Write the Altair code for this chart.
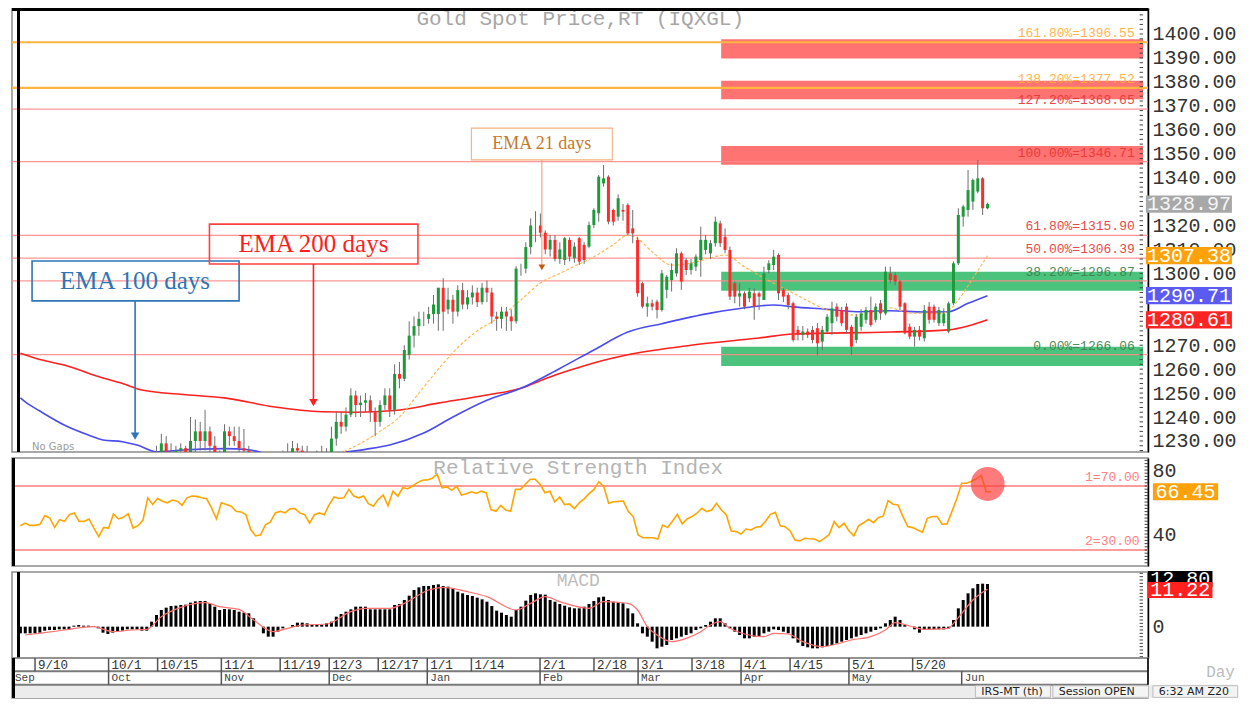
import altair as alt
import pandas as pd

# ---------------- data ----------------
bar_index = list(range(-4, 196))
opens = [1200,1193,1197,1200,1197,1195,1195,1205,1201,1194,
         1200,1198,1203,1207,1199,1200,1200,1194,1182,1192,
         1189,1204,1202,1199,1203,1188,1190,1194,1222,1221,
         1229,1225,1224,1226,1227,1222,1230,1234,1230,1234,
         1228,1225,1214,1234,1232,1230,1227,1226,1224,1209,
         1201,1201,1211,1214,1222,1223,1222,1227,1226,1224,
         1222,1214,1222,1224,1222,1231,1238,1236,1241,1249,
         1245,1246,1247,1242,1238,1245,1249,1243,1258,1256,
         1266,1274,1278,1281,1281,1283,1283,1294,1285,1289,
         1284,1293,1287,1290,1292,1288,1294,1292,1282,1281,
         1284,1282,1280,1302,1302,1311,1320,1320,1317,1310,
         1314,1306,1305.6,1314,1306.3,1314.7,1311.9,1311.2,1320.2,1325.1,
         1337.6,1340.4,1326.5,1323.7,1326.5,1328.6,1318.8,1314,1295.9,1286.1,
         1287.5,1288.2,1284.7,1293.1,1297.2,1300,1308.4,1305.6,1301.4,1302.8,
         1305.6,1309.8,1308.4,1312.6,1320.9,1315.3,1309.8,1295.9,1290.3,1291.7,
         1289.6,1291.7,1291.7,1288.9,1301.4,1303.5,1307.7,1293.1,1291,1287.5,
         1276.4,1274.3,1275.7,1276.4,1277.1,1271.5,1275.7,1279.2,1286.1,1284.7,
         1286.1,1277.7,1272.2,1277.7,1280.6,1284.7,1280.6,1287.5,1283.3,1300,
         1299.3,1296.6,1287.5,1277.7,1273.6,1276.4,1272.9,1286.1,1286.1,1279.2,
         1279.2,1275.7,1287.5,1304.2,1323.7,1326.5,1330,1334.2,1339.7,1327.2]
highs = [1201,1201,1203,1207,1201,1200,1210,1209,1205,1203,
         1205,1206,1211,1212,1205,1204,1204,1195,1196,1194,
         1208,1207,1206,1207,1204,1192,1196,1225,1228,1233,
         1232,1229,1228,1229,1228,1240,1239,1238,1243,1236,
         1232,1226,1237,1236,1236,1236,1235,1228,1225,1212,
         1206,1214,1217,1225,1226,1229,1230,1229,1228,1228,
         1224,1226,1228,1227,1236,1242,1242,1244,1252,1251,
         1249,1250,1249,1244,1247,1252,1252,1262,1263,1270,
         1280,1282,1284,1284,1286,1291,1294,1298,1294,1291,
         1295,1296,1293,1295,1294,1296,1297,1294,1284,1286,
         1286,1285,1303,1304,1313,1323,1326,1325,1318,1316,
         1316,1313,1315.3,1315,1313,1315.3,1313,1321.6,1327.2,1341.1,
         1345.3,1341,1327,1333,1329,1329.3,1326.5,1315.3,1296.6,1290.3,
         1289,1289,1301.4,1299.3,1304.2,1310.5,1309.1,1306.3,1306,1308,
         1319.5,1316,1314,1323.7,1322,1318.8,1311.2,1296.6,1295.9,1292.5,
         1294,1293.8,1292.4,1302.8,1305.5,1309.8,1308.4,1294,1292,1288.2,
         1278,1278,1277,1278,1279.2,1278,1283,1288.2,1287.5,1286,
         1287.5,1278.5,1283,1285,1286,1290.3,1287.5,1288.9,1302.8,1302.8,
         1300.5,1297.2,1288,1279,1277.7,1278,1286.8,1288,1287,1286,
         1285.4,1288.2,1305,1327.2,1328.6,1343.2,1339.6,1347.4,1340.2,1329.5]
lows = [1189,1191,1193,1194,1192,1192,1194,1199,1192,1192,
        1197,1197,1199,1196,1195,1196,1192,1180,1181,1181,
        1187,1197,1195,1196,1183,1182,1183,1192,1216,1219,
        1221,1220,1219,1222,1218,1220,1225,1226,1226,1225,
        1221,1211,1212,1228,1228,1224,1222,1220,1206,1196,
        1196,1199,1208,1213,1218,1216,1219,1222,1220,1220,
        1211,1212,1219,1219,1221,1228,1233,1234,1240,1240,
        1240,1242,1238,1232,1236,1243,1240,1241,1252,1255,
        1264,1269,1274,1278,1279,1279,1276,1276,1283,1279,
        1282,1285,1285,1287,1286,1287,1288,1279,1276,1277,
        1276,1276,1279,1299,1300,1308,1313,1315,1308,1307,
        1305,1304,1303.5,1305,1304.5,1303.5,1304,1310.5,1319,1321.6,
        1336.2,1320.5,1320,1322,1322,1316,1312.6,1290.3,1285.4,1281.9,
        1284.5,1281.2,1284,1289.6,1292.4,1298.6,1293.1,1299.3,1299.5,1301,
        1298.6,1308,1306,1311.2,1311,1308.4,1288.9,1287.5,1286.1,1285,
        1288,1280.6,1284.7,1288.9,1300,1301.4,1288.9,1288,1285,1271.5,
        1272,1272,1273,1270.8,1265.9,1268,1275,1274.3,1280,1278,
        1275,1265.9,1270.8,1276,1279,1277.7,1279.5,1280.6,1282.5,1295.9,
        1295,1284.7,1274.5,1272.5,1269.4,1272,1271.5,1279,1279.5,1278,
        1278,1275,1286.8,1303.5,1319.5,1323.7,1326.5,1333.5,1324.4,1326.8]
closes = [1193,1197,1200,1197,1195,1195,1205,1201,1194,1200,
          1198,1203,1207,1199,1200,1200,1194,1182,1192,1189,
          1204,1202,1199,1203,1188,1190,1194,1222,1221,1229,
          1225,1224,1226,1227,1222,1230,1234,1230,1234,1228,
          1225,1214,1234,1232,1230,1227,1226,1224,1209,1201,
          1201,1211,1214,1222,1223,1222,1227,1226,1224,1222,
          1214,1222,1224,1222,1231,1238,1236,1241,1249,1245,
          1246,1247,1242,1238,1245,1249,1243,1258,1256,1268,
          1274,1278,1281,1281,1283,1287,1294,1284,1289,1284,
          1293,1287,1290,1292,1288,1294,1292,1282,1281,1284,
          1282,1280,1302,1302,1311,1320,1320,1317,1310,1314,
          1306,1310,1314.7,1307,1311.2,1304.9,1305.6,1320.2,1326.5,1340.4,
          1339.7,1321.6,1321.6,1331.4,1325.8,1316.7,1316.7,1291.7,1286.1,1287.5,
          1286.1,1284.7,1300,1298.6,1301.4,1308.4,1296.6,1301.4,1304.2,1307,
          1314,1314,1312.6,1321.6,1312.6,1309.8,1290.3,1290.3,1291.7,1286.1,
          1292.4,1286.1,1290.3,1300,1304.2,1307,1291.7,1290.3,1286.8,1272.2,
          1274.3,1275.7,1274.3,1272.2,1270.8,1276.4,1281.9,1285.4,1281.9,1279.2,
          1276.4,1269.4,1281.9,1283.3,1284.7,1278.4,1286.1,1283.3,1300.7,1297.2,
          1296.6,1286.1,1275,1273.6,1276.4,1273.6,1284.7,1280.6,1280.6,1284.7,
          1283.3,1287.5,1304.2,1324.4,1327.9,1334.8,1339,1339.7,1327.2,1328.97]

ema200_index = [-4,0,5,13,17,21,30,38,48,58,65,73,82,92,99,104,109,114,121,134,148,155,175,187,191,195]
ema200_values = [1266.6,1264.0,1261.7,1256.3,1254.0,1251.3,1249.3,1248.0,1244.3,1242.2,1242.0,1242.7,1245.8,
                 1249.2,1252.0,1256.0,1259.5,1262.6,1266.0,1270.0,1273.0,1274.7,1275.5,1276.4,1278.0,1280.61]
ema100_index = [-4,-3,0,5,10,13,17,20,24,28,33,38,43,47,52,57,62,67,72,79,85,92,99,107,114,121,128,138,
                143,151,155,162,168,175,182,187,191,195]
ema100_values = [1248.0,1246.3,1242.5,1236.7,1232.5,1230.4,1229.7,1228.3,1225.5,1226.0,1226.6,1226.8,1226.3,
                 1224.5,1222.5,1222.8,1225.0,1226.5,1228.3,1233.3,1240.0,1247.0,1252.0,1260.3,1268.0,1275.5,
                 1279.0,1283.4,1285.0,1286.8,1286.0,1285.0,1284.0,1284.4,1283.9,1284.0,1287.5,1290.71]
ema21_index = [58,62,66,70,74,78,82,86,90,94,99,103,107,110,114,118,121,123,126,130,134,138,141,145,150,
               155,159,162,168,172,175,179,185,187,189,192,195]
ema21_values = [1221.0,1225.0,1229.0,1234.0,1240.0,1250.0,1260.0,1269.0,1276.0,1281.0,1288.9,1296.0,1300.0,
                1303.0,1306.9,1312.0,1316.0,1314.5,1309.0,1303.5,1304.3,1306.5,1307.7,1302.7,1297.0,1291.8,
                1287.5,1284.7,1282.6,1284.0,1285.6,1283.4,1283.3,1284.5,1288.9,1298.0,1307.38]

rsi_index = list(range(-3, 196))
rsi_values = [45.2,46.8,45.4,45.4,46.0,51.5,50.0,44.1,49.0,47.9,
              52.1,53.2,47.9,47.9,49.4,43.7,38.4,44.1,43.7,52.5,
              49.4,50.4,52.7,43.7,45.2,48.5,62.6,58.4,62.2,60.5,
              59.5,61.2,60.5,58.0,62.6,63.7,63.5,62.6,62.0,56.3,
              49.4,59.5,58.4,57.4,54.2,53.8,52.1,42.6,38.8,39.5,
              45.8,47.5,53.2,54.2,53.2,55.7,55.9,53.2,52.1,46.8,
              52.1,53.2,52.1,58.4,63.1,62.2,62.6,67.9,63.7,62.6,
              63.7,59.0,57.4,61.6,64.3,57.8,66.8,63.7,68.9,68.3,
              70.0,72.1,73.6,73.8,74.8,77.4,68.9,69.4,67.3,69.8,
              64.3,65.2,66.4,65.4,66.8,65.8,55.3,54.2,57.8,55.0,
              54.2,67.9,67.9,71.1,74.2,74.2,71.1,65.8,66.8,60.1,
              63.1,58.4,58.8,55.9,59.5,62.0,65.2,67.9,72.7,69.6,
              59.2,60.2,60.4,60.6,54.0,50.9,39.4,37.7,37.7,37.7,
              36.9,45.6,44.0,48.0,52.3,46.3,49.4,50.9,53.0,56.1,
              54.0,55.0,59.2,55.0,51.9,41.9,41.5,40.0,43.1,42.5,
              44.2,44.6,48.0,52.3,53.6,45.2,44.6,41.9,36.3,35.7,
              37.3,37.0,36.9,35.2,37.3,39.8,47.7,44.0,46.7,42.0,
              38.8,45.2,47.0,49.2,47.1,50.2,51.3,60.9,58.6,58.2,
              51.0,44.6,44.0,42.5,41.1,49.8,50.9,50.9,46.1,46.3,
              54.0,62.0,71.7,71.7,73.0,74.5,76.5,66.5,66.45]
rsi_levels = [70, 30]
rsi_level_names = ["1=70.00", "2=30.00"]

macd_values = [-2.0,-2.0,-2.0,-2.0,-1.8,-1.2,-1.0,-1.0,-0.8,-0.8,
               -0.8,0.3,0.5,0.3,0.3,0.2,-0.5,-1.8,-2.2,-1.8,
               -1.3,-1.2,-0.8,-0.8,-0.8,-1.2,-1.2,1.5,3.5,5.0,
               5.7,6.2,6.3,6.5,6.6,7.2,7.6,7.7,7.7,7.0,
               6.0,5.0,5.3,5.2,5.0,4.5,4.2,4.0,2.5,0.0,
               -2.0,-3.0,-3.0,-1.5,-0.5,0.0,0.5,1.2,1.2,1.0,
               0.5,0.5,0.5,1.0,1.5,3.0,3.8,4.5,5.2,6.0,
               6.0,6.0,5.2,5.2,5.2,5.2,5.2,6.5,6.8,8.0,
               9.3,11.0,11.8,12.2,12.2,12.5,12.7,12.2,12.0,11.5,
               10.5,10.0,9.5,9.2,8.7,8.2,7.5,6.2,4.8,4.2,
               3.5,3.0,5.0,6.0,7.8,9.5,10.0,9.7,9.6,8.0,
               7.5,6.8,6.3,5.8,5.5,5.5,6.0,6.8,7.7,8.8,
               9.0,8.0,7.5,7.2,7.0,5.5,4.0,1.0,-2.0,-3.0,
               -4.5,-6.5,-6.0,-5.5,-4.0,-3.5,-3.0,-2.5,-2.0,-1.0,
               -0.5,0.5,1.5,2.5,2.5,1.0,-0.5,-1.5,-2.5,-3.5,
               -3.5,-3.0,-3.0,-2.0,-1.5,-0.8,-1.0,-1.5,-2.0,-3.5,
               -4.8,-5.8,-6.2,-6.5,-6.5,-6.2,-5.8,-5.5,-5.0,-4.5,
               -4.0,-3.5,-3.0,-2.5,-2.0,-1.5,-1.0,-0.5,1.0,2.0,
               3.0,2.0,0.5,0.0,-0.8,-1.8,-1.0,-0.8,-0.8,-0.8,
               -0.8,-0.5,2.0,5.5,8.0,10.0,11.5,12.8,12.9,12.8]
signal_index = [-3,1,5,9,11,15,19,22,25,29,34,37,41,44,48,51,54,59,64,67,72,75,80,83,88,92,98,101,104,107,
                113,116,119,121,123,125,127,130,133,136,138,140,142,145,149,151,154,157,161,164,167,171,174,
                176,179,182,187,188,190,192,195]
signal_values = [-2.5,-1.8,-1.0,-0.2,0.0,-1.5,-1.0,-0.8,3.0,5.8,7.2,6.0,5.2,2.0,-1.5,-0.5,0.5,0.8,4.5,5.5,
                 5.5,7.0,11.0,11.8,10.5,9.0,5.0,7.0,9.0,7.5,5.5,7.5,7.3,7.0,5.0,0.0,-2.5,-4.5,-3.5,-1.5,
                 0.5,1.5,-0.5,-2.2,-3.0,-2.0,-2.2,-4.5,-6.0,-5.2,-4.0,-3.0,-1.0,1.2,0.2,-0.8,-0.5,1.0,4.5,
                 8.0,11.2]

fib_levels = [1396.55, 1377.52, 1368.65, 1346.71, 1315.90, 1306.39, 1296.87, 1266.06]
fib_pcts = ["161.80%", "138.20%", "127.20%", "100.00%", "61.80%", "50.00%", "38.20%", "0.00%"]
fib_group = ["ext", "ext", "res", "res", "res", "res", "sup", "sup"]

zone_lo = [1389.8, 1372.7, 1345.4, 1292.8, 1261.3]
zone_hi = [1397.8, 1380.5, 1353.2, 1300.7, 1269.4]
zone_kind = ["resistance", "resistance", "resistance", "support", "support"]
zone_start = 140.2

ann_names = ["EMA 100 days", "EMA 200 days", "EMA 21 days"]
ann_x1 = [-1.6, 34.9, 88.8]
ann_x2 = [41.0, 77.8, 117.8]
ann_lo = [1288.5, 1303.9, 1347.4]
ann_hi = [1305.2, 1320.6, 1360.7]
ann_tx = [19.6, 56.3, 103.3]
ann_ty = [1296.8, 1312.3, 1354.0]
ann_end = [1232.0, 1246.0, 1302.5]

price_axis_values = [1230, 1240, 1250, 1260, 1270, 1300, 1310, 1320, 1340, 1350, 1360, 1370, 1380, 1390, 1400]
price_tags = [1328.97, 1307.38, 1290.71, 1280.61]
rsi_axis_values = [40, 80]
rsi_tag = 66.45
macd_tags = [12.80, 11.22]
macd_tag_pos = [14.3, 11.0]

day_tick_pos = [0, 15, 25, 38, 50, 60, 70, 80, 89, 103, 114, 123, 134, 144, 154, 166, 179]
day_tick_text = ["9/10", "10/1", "10/15", "11/1", "11/19", "12/3", "12/17", "1/1", "1/14",
                 "2/1", "2/18", "3/1", "3/18", "4/1", "4/15", "5/1", "5/20"]
month_tick_pos = [-4.7, 15, 38, 60, 80, 103, 123, 144, 166, 189]
month_text = ["Sep", "Oct", "Nov", "Dec", "Jan", "Feb", "Mar", "Apr", "May", "Jun"]
status_text = ["IRS-MT (th)", "Session OPEN", "6:32 AM Z20"]
status_x1 = [191.8, 207.6, 228.0]
status_x2 = [207.1, 227.1, 245.3]

# ---------------- scales ----------------
X_DOM = [-4.7, 227.0]
XS = alt.Scale(domain=X_DOM, nice=False, zero=False)
MONO = "Liberation Mono"
LEFT_EDGE = -4.39   # keeps the thick left border inside the plot


def xenc(f):
    return alt.X(f"{f}:Q", scale=XS, axis=None)


def axis_right(values, fmt):
    return alt.Axis(orient="right", values=values, format=fmt, title=None, labelFont=MONO,
                    labelFontSize=20, labelColor="#333333", ticks=False, labelPadding=4,
                    domainColor="#000000", domainWidth=1.5, grid=False, labelOverlap=False,
                    labelFlush=False)


P_TOP = 1410.86
PS = alt.Scale(domain=[1225.39, P_TOP], nice=False, zero=False)
P_AXIS = axis_right(price_axis_values, ".2f")


def PY(f):
    return alt.Y(f"{f}:Q", scale=PS, axis=P_AXIS)


RS = alt.Scale(domain=[20, 87.5], nice=False, zero=False)
R_AXIS = axis_right(rsi_axis_values, "d")


def RY(f):
    return alt.Y(f"{f}:Q", scale=RS, axis=R_AXIS)


MS = alt.Scale(domain=[-9.4, 16.4], nice=False, zero=False)
M_AXIS = axis_right([0], "d")


def MY(f):
    return alt.Y(f"{f}:Q", scale=MS, axis=M_AXIS)


W = 1136

# ---------------- price panel ----------------
cdf = pd.DataFrame({"i": bar_index, "open": opens, "high": highs, "low": lows, "close": closes})
zdf = pd.DataFrame({"lo": zone_lo, "hi": zone_hi, "kind": zone_kind})
fdf = pd.DataFrame({"level": fib_levels, "pct": fib_pcts, "grp": fib_group})
fdf["label"] = fdf["pct"] + "=" + fdf["level"].map(lambda v: f"{v:.2f}")

player = []
for kind, col in [("resistance", "#FF5A5A"), ("support", "#2DB866")]:
    player.append(
        alt.Chart(zdf).transform_filter(alt.datum.kind == kind)
        .transform_calculate(x1=str(zone_start), x2=str(X_DOM[1]))
        .mark_rect(color=col, opacity=0.85)
        .encode(x=xenc("x1"), x2="x2", y=PY("lo"), y2="hi"))
player.append(alt.Chart(fdf).transform_filter(alt.datum.grp != "ext")
              .mark_rule(color="#FF8A8A", strokeWidth=1.3, opacity=0.9).encode(y=PY("level")))
player.append(alt.Chart(fdf).transform_filter(alt.datum.grp == "ext")
              .mark_rule(color="#FFB53F", strokeWidth=2.2).encode(y=PY("level")))


def line_layer(idx, vals, color, width, yf, dash=None, interp="monotone"):
    df = pd.DataFrame({"i": idx, "v": vals})
    kw = dict(color=color, strokeWidth=width, clip=True, interpolate=interp)
    if dash:
        kw["strokeDash"] = dash
    return alt.Chart(df).mark_line(**kw).encode(x=xenc("i"), y=yf("v"))


player.append(line_layer(ema200_index, ema200_values, "#FF2020", 1.6, PY))
player.append(line_layer(ema100_index, ema100_values, "#4B4BF0", 1.6, PY))
player.append(line_layer(ema21_index, ema21_values, "#FFB347", 1.1, PY, dash=[3, 2]))

player.append(alt.Chart(cdf).mark_rule(color="#6E6E6E", strokeWidth=1, clip=True)
              .encode(x=xenc("i"), y=PY("low"), y2="high"))
player.append(alt.Chart(cdf).mark_bar(size=3, clip=True).encode(
    x=xenc("i"), y=PY("open"), y2="close",
    color=alt.condition(alt.datum.close >= alt.datum.open, alt.value("#1E9A3B"), alt.value("#FF2A2A"))))

for grp, col in [("ext", "#FFAE3A"), ("res", "#E83535"), ("sup", "#3F7F50")]:
    player.append(
        alt.Chart(fdf).transform_filter(alt.datum.grp == grp).transform_calculate(lx="225.3")
        .mark_text(align="right", baseline="bottom", dy=-2, font=MONO, fontSize=13, color=col, opacity=0.9)
        .encode(x=xenc("lx"), y=PY("level"), text="label:N"))

title_df = pd.DataFrame({"x": [111.2], "y": [1406.2], "t": ["Gold Spot Price,RT (IQXGL)"]})
player.append(alt.Chart(title_df).mark_text(font=MONO, fontSize=21, color="#A6A6A6", baseline="middle")
              .encode(x=xenc("x"), y=PY("y"), text="t:N"))
nog_df = pd.DataFrame({"x": [-1.6], "y": [1227.6], "t": ["No Gaps"]})
player.append(alt.Chart(nog_df).mark_text(font="DejaVu Sans", fontSize=10, color="#9A9A9A",
                                          align="left", baseline="middle")
              .encode(x=xenc("x"), y=PY("y"), text="t:N"))

ann_styles = [
    dict(text="#2E75B6", box="#2E75B6", arrow="#2E75B6", head="#2E75B6", size=25, bw=1.6, aw=1.6, hs=70),
    dict(text="#FF1E1E", box="#FF4040", arrow="#FF2020", head="#FF2020", size=25, bw=1.6, aw=1.6, hs=70),
    dict(text="#C47A2C", box="#F4B183", arrow="#EFA274", head="#C55A11", size=18, bw=1.1, aw=1.1, hs=45),
]
for k in range(3):
    st = ann_styles[k]
    adf = pd.DataFrame({"x1": [ann_x1[k]], "x2": [ann_x2[k]], "lo": [ann_lo[k]], "hi": [ann_hi[k]],
                        "tx": [ann_tx[k]], "ty": [ann_ty[k]], "end": [ann_end[k]], "label": [ann_names[k]]})
    player.append(alt.Chart(adf).mark_rect(fill="white", fillOpacity=0, stroke=st["box"],
                                           strokeWidth=st["bw"])
                  .encode(x=xenc("x1"), x2="x2", y=PY("lo"), y2="hi"))
    player.append(alt.Chart(adf).mark_text(font="Liberation Serif", fontSize=st["size"], color=st["text"],
                                           baseline="middle")
                  .encode(x=xenc("tx"), y=PY("ty"), text="label:N"))
    player.append(alt.Chart(adf).mark_rule(color=st["arrow"], strokeWidth=st["aw"])
                  .encode(x=xenc("tx"), y=PY("lo"), y2="end"))
    player.append(alt.Chart(adf).mark_point(shape="triangle-down", filled=True, size=st["hs"],
                                            color=st["head"], opacity=1)
                  .encode(x=xenc("tx"), y=PY("end")))

# minor ticks along right axis
ptick_df = pd.DataFrame({"v": list(range(1226, 1411, 2))})
player.append(alt.Chart(ptick_df).transform_calculate(a="226.3", b="227.0")
              .mark_rule(color="#444444", strokeWidth=1).encode(x=xenc("a"), x2="b", y=PY("v")))

tag_styles = [("#A8A8A8", "#F4F4F4"), ("#FFA20A", "#FFFFFF"), ("#5B5BF2", "#FFFFFF"), ("#FF2424", "#FFFFFF")]
for v, (fill, tc) in zip(price_tags, tag_styles):
    tdf = pd.DataFrame({"v": [v], "label": [f"{v:.2f}"]})
    player.append(alt.Chart(tdf).transform_calculate(lo="datum.v - 3.6", hi="datum.v + 3.6",
                                                     a="227.6", b="245.3")
                  .mark_rect(color=fill, clip=False)
                  .encode(x=xenc("a"), x2="b", y=PY("lo"), y2="hi"))
    player.append(alt.Chart(tdf).transform_calculate(c="236.45")
                  .mark_text(font=MONO, fontSize=20, color=tc, baseline="middle", clip=False)
                  .encode(x=xenc("c"), y=PY("v"), text="label:N"))

edge_df = pd.DataFrame({"x": [LEFT_EDGE], "y": [P_TOP - 0.63]})
player.append(alt.Chart(edge_df).mark_rule(color="#000000", strokeWidth=3).encode(x=xenc("x")))
player.append(alt.Chart(edge_df).mark_rule(color="#000000", strokeWidth=3).encode(y=PY("y")))

price = alt.layer(*player).properties(width=W, height=444)

# ---------------- RSI panel ----------------
rldf = pd.DataFrame({"lvl": rsi_levels, "name": rsi_level_names})
rlayer = [
    alt.Chart(rldf).mark_rule(color="#FF9C9C", strokeWidth=2).encode(y=RY("lvl")),
    alt.Chart(rldf).transform_calculate(lx="225.3")
    .mark_text(align="right", baseline="bottom", dy=-2, font=MONO, fontSize=13, color="#FF8080")
    .encode(x=xenc("lx"), y=RY("lvl"), text="name:N"),
    line_layer(rsi_index, rsi_values, "#FFA500", 1.6, RY, interp="linear"),
]
rt_df = pd.DataFrame({"x": [110.8], "y": [81.0], "t": ["Relative Strength Index"]})
rlayer.append(alt.Chart(rt_df).mark_text(font=MONO, fontSize=21, color="#B4B4B4", baseline="middle")
              .encode(x=xenc("x"), y=RY("y"), text="t:N"))
circ_df = pd.DataFrame({"x": [194.3], "y": [71.3]})
rlayer.append(alt.Chart(circ_df).mark_circle(color="#FF3B3B", opacity=0.68, size=1150)
              .encode(x=xenc("x"), y=RY("y")))
rtick_df = pd.DataFrame({"v": list(range(22, 88, 2))})
rlayer.append(alt.Chart(rtick_df).transform_calculate(a="226.3", b="227.0")
              .mark_rule(color="#444444", strokeWidth=1).encode(x=xenc("a"), x2="b", y=RY("v")))
rtag = pd.DataFrame({"v": [rsi_tag], "label": [f"{rsi_tag:.2f}"]})
rlayer.append(alt.Chart(rtag).transform_calculate(lo="datum.v - 5.3", hi="datum.v + 5.3", a="228.0", b="241.3")
              .mark_rect(color="#FFA20A", clip=False).encode(x=xenc("a"), x2="b", y=RY("lo"), y2="hi"))
rlayer.append(alt.Chart(rtag).transform_calculate(c="234.65")
              .mark_text(font=MONO, fontSize=20, color="#FFFFFF", baseline="middle", clip=False)
              .encode(x=xenc("c"), y=RY("v"), text="label:N"))
rlayer.append(alt.Chart(edge_df).mark_rule(color="#000000", strokeWidth=3).encode(x=xenc("x")))
rsi = alt.layer(*rlayer).properties(width=W, height=108)

# ---------------- MACD panel ----------------
mdf = pd.DataFrame({"i": bar_index, "m": macd_values})
mlayer = [
    alt.Chart(mdf).mark_bar(size=3, color="#000000", clip=True).encode(x=xenc("i"), y=MY("m"), y2=alt.datum(0)),
    line_layer(signal_index, signal_values, "#FF7070", 1.2, MY),
]
mt_df = pd.DataFrame({"x": [110.8], "y": [13.7], "t": ["MACD"]})
mlayer.append(alt.Chart(mt_df).mark_text(font=MONO, fontSize=18, color="#BDBDBD", baseline="middle")
              .encode(x=xenc("x"), y=MY("y"), text="t:N"))
mtick_df = pd.DataFrame({"v": list(range(-9, 17, 1))})
mlayer.append(alt.Chart(mtick_df).transform_calculate(a="226.3", b="227.0")
              .mark_rule(color="#444444", strokeWidth=1).encode(x=xenc("a"), x2="b", y=MY("v")))
for v, pos, fill in zip(macd_tags, macd_tag_pos, ["#000000", "#FF2020"]):
    tdf = pd.DataFrame({"v": [pos], "label": [f"{v:.2f}"]})
    mlayer.append(alt.Chart(tdf).transform_calculate(lo="datum.v - 2.4", hi="datum.v + 2.4", a="228.0", b="241.3")
                  .mark_rect(color=fill, clip=False).encode(x=xenc("a"), x2="b", y=MY("lo"), y2="hi"))
    mlayer.append(alt.Chart(tdf).transform_calculate(c="234.65")
                  .mark_text(font=MONO, fontSize=20, color="#FFFFFF", baseline="middle", clip=False)
                  .encode(x=xenc("c"), y=MY("v"), text="label:N"))
mlayer.append(alt.Chart(edge_df).mark_rule(color="#000000", strokeWidth=3).encode(x=xenc("x")))
macd = alt.layer(*mlayer).properties(width=W, height=86)

# ---------------- date axis + status rows ----------------
RWS = alt.Scale(domain=[0, 3], reverse=True, nice=False, zero=False)


def RW(f):
    return alt.Y(f"{f}:Q", scale=RWS, axis=None)


ddf = pd.DataFrame({"i": day_tick_pos, "t": day_tick_text})
modf = pd.DataFrame({"i": month_tick_pos, "t": month_text})
sdf = pd.DataFrame({"x1": status_x1, "x2": status_x2, "t": status_text})
hl_df = pd.DataFrame({"r": [1.0, 2.0]})
alayer = [
    alt.Chart(pd.DataFrame({"a": [X_DOM[0]], "b": [245.3]})).transform_calculate(r0="2", r1="3")
    .mark_rect(color="#ECECEC", clip=False).encode(x=xenc("a"), x2="b", y=RW("r0"), y2="r1"),
    alt.Chart(hl_df).mark_rule(color="#7A7A7A", strokeWidth=2).encode(y=RW("r")),
    alt.Chart(ddf).transform_calculate(r0="0", r1="1")
    .mark_rule(color="#555555", strokeWidth=1.5).encode(x=xenc("i"), y=RW("r0"), y2="r1"),
    alt.Chart(ddf).transform_calculate(r="0.5")
    .mark_text(align="left", dx=3, baseline="middle", font=MONO, fontSize=12.5, color="#333333")
    .encode(x=xenc("i"), y=RW("r"), text="t:N"),
    alt.Chart(modf).transform_filter(alt.datum.i > 0).transform_calculate(r0="1", r1="2")
    .mark_rule(color="#555555", strokeWidth=1.5).encode(x=xenc("i"), y=RW("r0"), y2="r1"),
    alt.Chart(modf).transform_calculate(r="1.5")
    .mark_text(align="left", dx=3, baseline="middle", font=MONO, fontSize=11, color="#444444")
    .encode(x=xenc("i"), y=RW("r"), text="t:N"),
    alt.Chart(sdf).transform_calculate(r0="2.08", r1="2.95")
    .mark_rect(fill="#F4F4F4", stroke="#BDBDBD", strokeWidth=1, clip=False)
    .encode(x=xenc("x1"), x2="x2", y=RW("r0"), y2="r1"),
    alt.Chart(sdf).transform_calculate(r="2.52", c="datum.x1 + 1.2")
    .mark_text(align="left", baseline="middle", font="DejaVu Sans", fontSize=11, color="#222222", clip=False)
    .encode(x=xenc("c"), y=RW("r"), text="t:N"),
    alt.Chart(pd.DataFrame({"x": [241.8], "r": [1.05], "t": ["Day"]}))
    .mark_text(font=MONO, fontSize=16, color="#BBBBBB", baseline="middle", clip=False)
    .encode(x=xenc("x"), y=RW("r"), text="t:N"),
    alt.Chart(pd.DataFrame({"x": [X_DOM[1]]})).transform_calculate(r0="0", r1="2")
    .mark_rule(color="#000000", strokeWidth=1.5).encode(x=xenc("x"), y=RW("r0"), y2="r1"),
    alt.Chart(edge_df).mark_rule(color="#000000", strokeWidth=3).encode(x=xenc("x")),
]
axis_panel = alt.layer(*alayer).properties(width=W, height=40)

chart = alt.vconcat(
    price, rsi,
    alt.vconcat(macd, axis_panel, spacing=0, bounds="flush"),
    spacing=6, bounds="flush",
).properties(
    padding={"left": 1, "top": -3, "right": 0, "bottom": 0},
    background="white",
).configure_view(stroke="#8C8C8C", strokeWidth=1.5)

chart.save("out.html", embed_options={"renderer": "svg", "actions": False})
